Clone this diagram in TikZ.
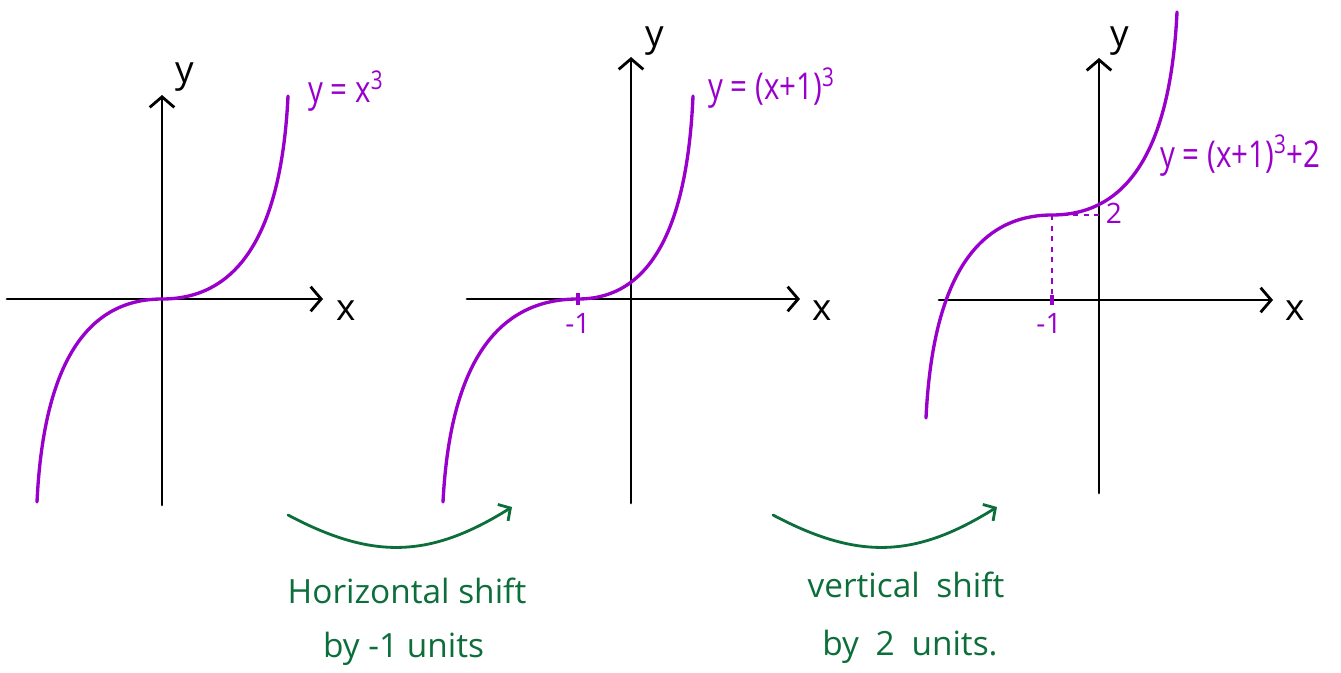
\documentclass[tikz,border=0pt]{standalone}
\usepackage{fontspec}
\setmainfont{Open Sans}
\usetikzlibrary{arrows.meta}

\definecolor{curvepurple}{RGB}{153,0,204}
\definecolor{shiftgreen}{RGB}{12,110,58}

\tikzset{
    axis/.style={line width=1.6pt, line cap=round,
        -{Straight Barb[length=6pt,width=14pt,line width=1.6pt]}},
    curve/.style={curvepurple, line width=1.9pt, line cap=round},
    guide/.style={curvepurple, line width=1.5pt, dash pattern=on 3pt off 3pt},
    tickmark/.style={curvepurple, line width=2.4pt},
    axislabel/.style={font=\fontsize{21}{24}\selectfont, anchor=base, inner sep=0pt},
    eqlabel/.style={curvepurple, font=\fontsize{21}{24}\selectfont, anchor=base west,
        inner sep=0pt, xscale=0.8, transform shape},
    ticklabel/.style={curvepurple, font=\fontsize{16}{19}\selectfont, anchor=base, inner sep=0pt},
    shiftarrow/.style={shiftgreen, line width=1.6pt, line cap=round,
        -{Straight Barb[length=5pt,width=11pt,line width=1.6pt]}},
    shifttext/.style={shiftgreen, font=\fontsize{19}{22}\selectfont, anchor=base, inner sep=0pt}
}

% hand-drawn cubic: left width, right width, height
\newcommand{\cubicshape}[3]{(-#1,-#3) .. controls (-0.95*#1,-0.35*#3) and (-0.63*#1,0) .. (0,0)
    .. controls (0.63*#2,0) and (0.95*#2,0.35*#3) .. (#2,#3)}

\begin{document}
\begin{tikzpicture}
    \useasboundingbox (0,0) rectangle (26.82,13.44);

    % y = x^3
    \begin{scope}[shift={(3.24,7.46)}]
        \draw[axis] (-3.10,0) -- (3.22,0);
        \draw[axis] (0,-4.12) -- (0,4.08);
        \draw[curve] \cubicshape{2.5}{2.52}{4.06};
        \node[axislabel] (xa) at (3.68,-0.42) {x};
        \node[axislabel] (ya) at (0.46,4.32) {y};
        \node[eqlabel] (eqa) at (2.92,3.92) {y = x\textsuperscript{3}};
    \end{scope}

    % y = (x+1)^3
    \begin{scope}[shift={(12.62,7.46)}]
        \draw[axis] (-3.28,0) -- (3.38,0);
        \draw[axis] (0,-4.08) -- (0,4.84);
        \begin{scope}[shift={(-1.06,0)}]
            \draw[curve] \cubicshape{2.70}{2.30}{4.06};
        \end{scope}
        \draw[tickmark] (-1.06,-0.12) -- (-1.06,0.12);
        \node[ticklabel] (mb) at (-1.06,-0.68) {-1};
        \node[axislabel] (xb) at (3.82,-0.42) {x};
        \node[axislabel] (yb) at (0.48,5.04) {y};
        \node[eqlabel] (eqb) at (1.54,3.98) {y = (x+1)\textsuperscript{3}};
    \end{scope}

    % y = (x+1)^3 + 2
    \begin{scope}[shift={(21.98,7.44)}]
        \draw[axis] (-3.20,0) -- (3.48,0);
        \draw[axis] (0,-3.86) -- (0,4.84);
        \coordinate (top) at (-0.94,1.70);
        \draw[guide] (top) -- (-0.94,0);
        \draw[guide] (top) -- (0,1.70);
        \begin{scope}[shift={(top)}]
            \draw[curve] \cubicshape{2.52}{2.5}{4.06};
        \end{scope}
        \draw[tickmark] (-0.94,-0.1) -- (-0.94,0.1);
        \node[ticklabel] (mc) at (-1.0,-0.66) {-1};
        \node[ticklabel] (tc) at (0.30,1.54) {2};
        \node[axislabel] (xc) at (3.92,-0.40) {x};
        \node[axislabel] (yc) at (0.42,5.06) {y};
        \node[eqlabel] (eqc) at (1.22,2.66) {y = (x+1)\textsuperscript{3}+2};
    \end{scope}

    % shifts
    \coordinate (h1) at (5.76,3.14);
    \coordinate (h2) at (10.24,3.30);
    \coordinate (v1) at (15.46,3.14);
    \coordinate (v2) at (19.94,3.30);
    \draw[shiftarrow] (h1) to[out=-28,in=-148,looseness=1.1] (h2);
    \draw[shiftarrow] (v1) to[out=-28,in=-148,looseness=1.1] (v2);

    \node[shifttext] (hs1) at (8.14,1.38) {Horizontal shift};
    \node[shifttext] (hs2) at (8.07,0.30) {by -1 units};
    \node[shifttext] (vs1) at (18.12,1.50) {vertical\enspace shift};
    \node[shifttext] (vs2) at (18.20,0.34) {by\enspace 2\enspace units.};
\end{tikzpicture}
\end{document}
